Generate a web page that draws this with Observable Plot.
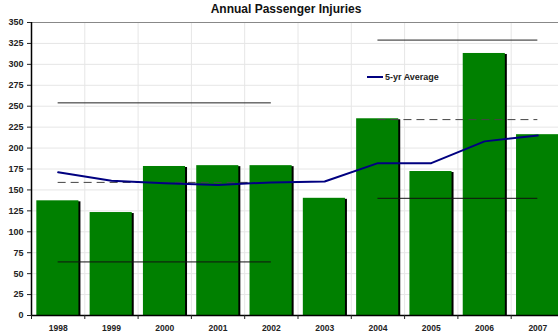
<!DOCTYPE html>
<html><head><meta charset="utf-8">
<script src="https://cdn.jsdelivr.net/npm/d3@7"></script>
<script src="https://cdn.jsdelivr.net/npm/@observablehq/plot@0.6"></script>
<style>
body{margin:0;background:#fff;overflow:hidden;}
#wrap{position:relative;width:558px;height:335px;overflow:hidden;}
#title{position:absolute;top:2px;left:0;width:572px;text-align:center;font:bold 12px "Liberation Sans",Arial,sans-serif;color:#111;}
#legend{position:absolute;left:367px;top:71px;height:12px;font:bold 9px "Liberation Sans",Arial,sans-serif;color:#222;display:flex;align-items:center;}
#legend span.sw{display:inline-block;width:16px;height:2px;background:#000080;margin-right:2px;}
</style></head>
<body><div id="wrap"><div id="chart"></div><div id="title">Annual Passenger Injuries</div><div id="legend"><span class="sw"></span>5-yr Average</div></div>
<script>
const years = [1998,1999,2000,2001,2002,2003,2004,2005,2006,2007];
const injuries = [137,123,178,179,179,140,235,172,313,216];
const avg5 = [171,161,158,156,159,160,182,182,208,215];
const groupStart = [1998, 2004];
const groupEnd = [2002, 2007];
const upperLimit = [254, 329];
const groupMean = [159, 234];
const lowerLimit = [64, 140];
const yTicks = d3.range(0, 351, 25);

const data = years.map((y,i)=>({year:y, v:injuries[i], avg:avg5[i]}));
const groups = groupStart.map((s,i)=>({start:s, end:groupEnd[i], up:upperLimit[i], mean:groupMean[i], low:lowerLimit[i]}));
const bounds = d3.range(1997.5, 2008, 1);

const chart = Plot.plot({
  width: 558, height: 335,
  marginTop: 22, marginBottom: 20, marginLeft: 31, marginRight: 0,
  style: {fontFamily: '"Liberation Sans", Arial, sans-serif', fontSize: "9px", fontWeight: "bold", color: "#222", background: "#fff"},
  x: {domain: [1997.5, 2007.5], range: [31, 564]},
  y: {domain: [0, 350], range: [315, 22]},
  marks: [
    Plot.gridY(yTicks, {stroke: "#e6e6e6", strokeOpacity: 1}),
    Plot.gridX(bounds, {stroke: "#e6e6e6", strokeOpacity: 1}),
    Plot.ruleY([350], {stroke: "#888"}),
    Plot.rectY(data, {x1: d=>d.year-0.4, x2: d=>d.year+0.39, y: "v", fill: "black", dx: 2, dy: 1}),
    Plot.rectY(data, {x1: d=>d.year-0.4, x2: d=>d.year+0.39, y: "v", fill: "#008000"}),
    Plot.ruleY(groups, {x1: "start", x2: "end", y: "up", stroke: "#222", strokeWidth: 1}),
    Plot.ruleY(groups, {x1: "start", x2: "end", y: "mean", stroke: "#444", strokeWidth: 1, strokeDasharray: "8,5"}),
    Plot.ruleY(groups, {x1: "start", x2: "end", y: "low", stroke: "#111", strokeWidth: 1}),
    Plot.lineY(data, {x: "year", y: "avg", stroke: "#000080", strokeWidth: 2}),
    Plot.ruleX([1997.5], {stroke: "black", strokeWidth: 1.5}),
    Plot.ruleY([0], {stroke: "black", strokeWidth: 1.5}),
    Plot.axisY({ticks: yTicks, tickSize: 4, tickPadding: 4, fontSize: 9, label: null}),
    Plot.axisX({ticks: bounds, tickSize: 4, tickFormat: () => "", label: null}),
    Plot.axisX({ticks: years, tickSize: 0, tickPadding: 9, fontSize: 8.5, tickFormat: d => String(d), label: null})
  ]
});
document.getElementById("chart").appendChild(chart);
</script></body></html>
